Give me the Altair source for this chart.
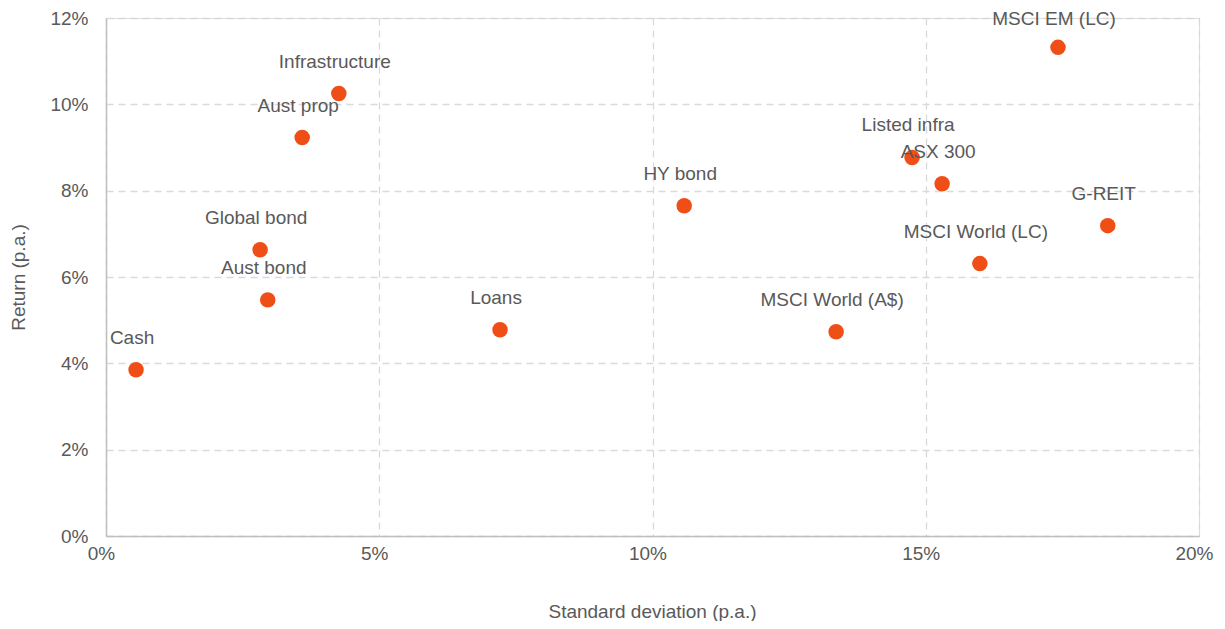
import altair as alt
import pandas as pd

names = ["Cash", "Global bond", "Aust bond", "Aust prop", "Infrastructure", "Loans",
         "HY bond", "MSCI World (A$)", "Listed infra", "ASX 300", "MSCI World (LC)",
         "MSCI EM (LC)", "G-REIT"]
std_dev = [0.0055, 0.0282, 0.0296, 0.0359, 0.0426, 0.0721,
           0.1058, 0.1336, 0.1475, 0.1530, 0.1599,
           0.1742, 0.1833]
ret = [0.0385, 0.0663, 0.0547, 0.0923, 0.1025, 0.0478,
       0.0765, 0.0473, 0.0877, 0.0816, 0.0631,
       0.1132, 0.0719]
x_ticks = [0, 0.05, 0.10, 0.15, 0.20]
y_ticks = [0, 0.02, 0.04, 0.06, 0.08, 0.10, 0.12]

df = pd.DataFrame({"name": names, "sd": std_dev, "ret": ret})

FONT = "Liberation Sans"
TXT = "#595959"

x_enc = alt.X("sd:Q", scale=alt.Scale(domain=[0, 0.2], nice=False),
              axis=alt.Axis(values=x_ticks, format=".0%", title="Standard deviation (p.a.)",
                            grid=True, gridColor="#d9d9d9", gridDash=[7, 5], gridWidth=1.3,
                            domainColor="#bfbfbf", domainWidth=1.5, ticks=False,
                            labelFont=FONT, labelFontSize=19, labelColor=TXT, labelPadding=8,
                            labelFlush=False, labelOffset=-5,
                            titleFont=FONT, titleFontSize=19, titleColor=TXT, titleFontWeight="normal",
                            titleX=546, titleY=75, titleBaseline="middle", titleAlign="center"))
y_enc = alt.Y("ret:Q", scale=alt.Scale(domain=[0, 0.12], nice=False),
              axis=alt.Axis(values=y_ticks, format=".0%", title="Return (p.a.)",
                            grid=True, gridColor="#d9d9d9", gridDash=[7, 5], gridWidth=1.3,
                            domainColor="#bfbfbf", domainWidth=1.5, ticks=False,
                            labelFont=FONT, labelFontSize=19, labelColor=TXT, labelPadding=18,
                            labelFlush=False,
                            titleFont=FONT, titleFontSize=19, titleColor=TXT, titleFontWeight="normal",
                            titleX=-88, titleY=259, titleAngle=-90, titleBaseline="middle",
                            titleAlign="center"))

base = alt.Chart(df)
points = base.mark_circle(size=240, opacity=1, color="#f04e17").encode(x=x_enc, y=y_enc)
labels = base.transform_filter(alt.datum.name != "MSCI EM (LC)").mark_text(
    font=FONT, fontSize=19, color=TXT, dy=-32, dx=-4,
    baseline="middle", align="center").encode(x="sd:Q", y="ret:Q", text="name:N")
top_label = base.transform_filter(alt.datum.name == "MSCI EM (LC)").mark_text(
    font=FONT, fontSize=19, color=TXT, dy=-28, dx=-4,
    baseline="middle", align="center").encode(x="sd:Q", y="ret:Q", text="name:N")

chart = (points + labels + top_label).properties(
    width=1093, height=518,
    autosize=alt.AutoSizeParams(type="none"),
    padding={"left": 98, "top": 10, "right": 18, "bottom": 85},
).configure_view(stroke="#d9d9d9", strokeDash=[7, 5], strokeWidth=1.3).configure(background="white")

chart.save("out.html", embed_options={"renderer": "svg", "actions": False})
